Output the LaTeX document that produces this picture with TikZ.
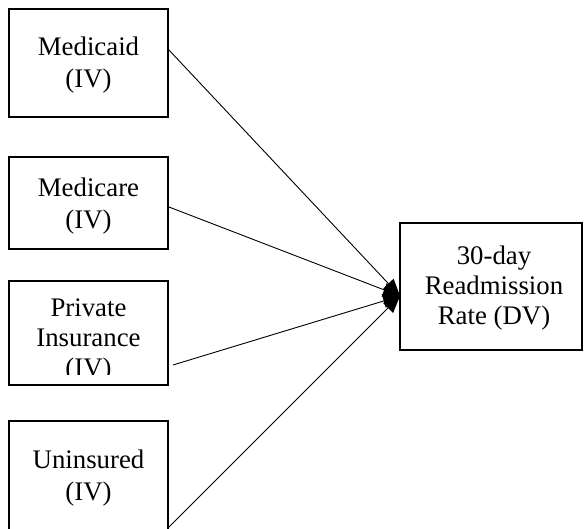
\documentclass[tikz,border=0pt]{standalone}
\usepackage{fontspec}
\setmainfont{Liberation Serif}
\usetikzlibrary{arrows.meta}
\begin{document}
\begin{tikzpicture}[x=1pt,y=-1pt,
  box/.style={draw=black,line width=1.9pt,rectangle,inner sep=0pt,fill=white},
  lbl/.style={align=center,anchor=base,inner sep=0pt,font=\fontsize{26.8}{32}\selectfont},
  conn/.style={draw=black,line width=0.9pt,-{Triangle[length=17pt,width=14pt]}}]
\useasboundingbox (0,0) rectangle (584,529);
% boxes
\node[box,minimum width=159pt,minimum height=108pt] (medicaid) at (88.5,63) {};
\node[box,minimum width=159pt,minimum height=92pt] (medicare) at (88.5,203) {};
\node[box,minimum width=159pt,minimum height=104pt] (private) at (88.5,333) {};
\node[box,minimum width=159pt,minimum height=114pt] (uninsured) at (88.5,478) {};
\node[box,minimum width=182pt,minimum height=127pt] (dv) at (491,286.5) {};
% texts (base anchor = baseline of last line)
\node[lbl] (t1) at (88.5,88) {Medicaid\\(IV)};
\node[lbl] (t2) at (88.5,228.5) {Medicare\\(IV)};
\begin{scope}
\clip (10,282) rectangle (167,375);
\node[lbl,font=\fontsize{26.8}{30}\selectfont] (t3) at (88.5,377) {Private\\Insurance\\(IV)};
\end{scope}
\node[lbl] (t4) at (88.5,500.5) {Uninsured\\(IV)};
\node[lbl,font=\fontsize{26.8}{30}\selectfont] (t5) at (494,325) {30-day\\Readmission\\Rate (DV)};
% connectors
\coordinate (tip) at ([yshift=-9.5pt,xshift=1pt]dv.west);
\draw[conn] ([yshift=13pt]medicaid.east) -- (tip);
\draw[conn] ([yshift=-4pt]medicare.east) -- (tip);
\draw[conn] ([yshift=-32pt,xshift=4pt]private.east) -- (tip);
\draw[conn] ([yshift=-49pt]uninsured.east) -- (tip);
\end{tikzpicture}
\end{document}
